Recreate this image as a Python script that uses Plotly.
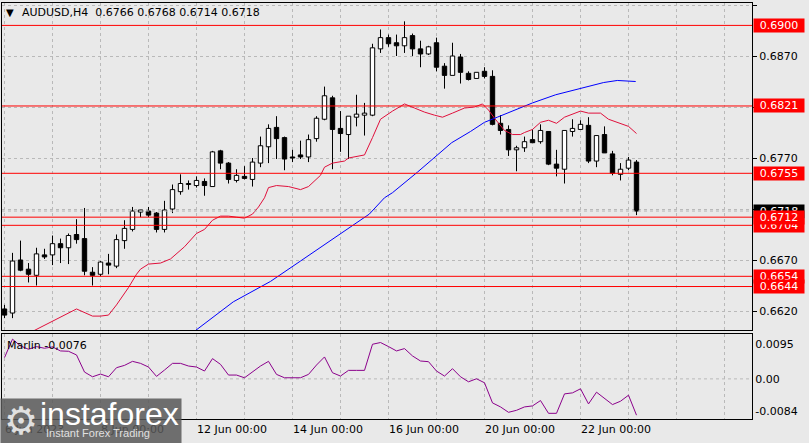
import plotly.graph_objects as go

# ---------------- data ----------------
# bar index 0 = 6 Jun 2023 00:00, H4 bars
opens = [0.6622, 0.6618, 0.6670, 0.6661, 0.6655, 0.6675, 0.6675, 0.6686, 0.6682, 0.6695,
         0.6691, 0.6658, 0.6656, 0.6667, 0.6664, 0.6689, 0.6700, 0.6717, 0.6718, 0.6716,
         0.6700, 0.6720, 0.6737, 0.6744, 0.6743, 0.6747, 0.6742, 0.6777, 0.6765, 0.6748,
         0.6752, 0.6749, 0.6765, 0.6781, 0.6800, 0.6790, 0.6771, 0.6773, 0.6771, 0.6789,
         0.6808, 0.6829, 0.6799, 0.6793, 0.6810, 0.6812, 0.6812, 0.6877, 0.6888, 0.6883,
         0.6880, 0.6890, 0.6877, 0.6872, 0.6883, 0.6860, 0.6851, 0.6869, 0.6853, 0.6848,
         0.6855, 0.6850, 0.6804, 0.6798, 0.6778, 0.6780, 0.6788, 0.6786, 0.6796, 0.6764,
         0.6759, 0.6796, 0.6798, 0.6802, 0.6767, 0.6793, 0.6774, 0.6754, 0.6760, 0.6766]
highs = [0.6626, 0.6677, 0.6689, 0.6667, 0.6682, 0.6681, 0.6694, 0.6691, 0.6696, 0.6710,
         0.6721, 0.6663, 0.6669, 0.6676, 0.6695, 0.6709, 0.6722, 0.6719, 0.6722, 0.6717,
         0.6728, 0.6744, 0.6754, 0.6748, 0.6752, 0.6750, 0.6777, 0.6778, 0.6766, 0.6759,
         0.6762, 0.6770, 0.6791, 0.6803, 0.6811, 0.6791, 0.6778, 0.6787, 0.6793, 0.6811,
         0.6840, 0.6831, 0.6816, 0.6811, 0.6832, 0.6824, 0.6882, 0.6896, 0.6891, 0.6891,
         0.6904, 0.6892, 0.6885, 0.6880, 0.6888, 0.6863, 0.6883, 0.6872, 0.6855, 0.6854,
         0.6859, 0.6856, 0.6812, 0.6802, 0.6782, 0.6791, 0.6798, 0.6803, 0.6796, 0.6778,
         0.6797, 0.6808, 0.6807, 0.6810, 0.6792, 0.6801, 0.6777, 0.6765, 0.6771, 0.6768]
lows = [0.6613, 0.6613, 0.6659, 0.6648, 0.6645, 0.6671, 0.6665, 0.6667, 0.6666, 0.6686,
        0.6655, 0.6645, 0.6654, 0.6656, 0.6662, 0.6681, 0.6698, 0.6712, 0.6712, 0.6697,
        0.6697, 0.6716, 0.6734, 0.6739, 0.6741, 0.6733, 0.6742, 0.6759, 0.6745, 0.6746,
        0.6749, 0.6742, 0.6761, 0.6765, 0.6769, 0.6758, 0.6766, 0.6769, 0.6766, 0.6786,
        0.6807, 0.6759, 0.6776, 0.6769, 0.6801, 0.6792, 0.6811, 0.6873, 0.6879, 0.6870,
        0.6873, 0.6870, 0.6859, 0.6871, 0.6855, 0.6838, 0.6851, 0.6843, 0.6846, 0.6848,
        0.6848, 0.6802, 0.6793, 0.6772, 0.6757, 0.6776, 0.6785, 0.6784, 0.6763, 0.6752,
        0.6745, 0.6791, 0.6798, 0.6765, 0.6761, 0.6775, 0.6753, 0.6748, 0.6758, 0.6714]
closes = [0.6616, 0.6669, 0.6660, 0.6656, 0.6676, 0.6673, 0.6686, 0.6682, 0.6694, 0.6690,
          0.6659, 0.6655, 0.6668, 0.6665, 0.6690, 0.6701, 0.6718, 0.6719, 0.6714, 0.6700,
          0.6719, 0.6739, 0.6745, 0.6745, 0.6748, 0.6743, 0.6776, 0.6765, 0.6749, 0.6753,
          0.6750, 0.6766, 0.6782, 0.6799, 0.6789, 0.6769, 0.6770, 0.6771, 0.6788, 0.6809,
          0.6831, 0.6798, 0.6794, 0.6811, 0.6813, 0.6814, 0.6878, 0.6888, 0.6882, 0.6880,
          0.6888, 0.6877, 0.6872, 0.6879, 0.6859, 0.6851, 0.6870, 0.6854, 0.6847, 0.6854,
          0.6850, 0.6803, 0.6797, 0.6778, 0.6780, 0.6786, 0.6785, 0.6797, 0.6764, 0.6760,
          0.6797, 0.6799, 0.6803, 0.6767, 0.6792, 0.6775, 0.6755, 0.6759, 0.6768, 0.6718]

# fast moving average (red) read at bar positions
ma_fast_x = [3, 4, 6, 8, 9, 11, 12, 13, 14, 15.5, 16.5, 17, 18, 19.5, 20.75, 22.5, 24, 25,
             26, 27, 28, 29, 30, 31, 31.75, 32.5, 33, 34, 35.5, 37, 38, 39.5, 40, 41, 42.5,
             43, 45, 46, 47, 48.5, 50, 51.25, 52.5, 53.75, 54.75, 56, 57.5, 58.75, 59.75,
             60.5, 61.25, 62.5, 63.5, 64.5, 65, 66, 67, 68, 69, 70, 72, 73, 74.5, 75.5, 77,
             78, 79]
ma_fast_y = [0.6598, 0.6602, 0.6610, 0.6618, 0.6622, 0.6615, 0.6615, 0.6616, 0.6626, 0.6643,
             0.6656, 0.6661, 0.6666, 0.6667, 0.6671, 0.6683, 0.6696, 0.6700, 0.6709, 0.6713,
             0.6713, 0.6712, 0.6711, 0.6715, 0.6722, 0.6731, 0.6741, 0.6743, 0.6742, 0.6739,
             0.6742, 0.6753, 0.6761, 0.6765, 0.6767, 0.6770, 0.6773, 0.6790, 0.6808, 0.6816,
             0.6823, 0.6819, 0.6815, 0.6812, 0.6810, 0.6814, 0.6819, 0.6820, 0.6823, 0.6817,
             0.6809, 0.6797, 0.6793, 0.6793, 0.6795, 0.6798, 0.6805, 0.6807, 0.6804, 0.6810,
             0.6816, 0.6814, 0.6814, 0.6808, 0.6804, 0.6801, 0.6794]

# slow moving average (blue)
ma_slow_x = [22.9, 23.9, 28.6, 33.25, 37, 41.1, 44, 45.6, 47.5, 48.5, 51.6, 55.9, 58.25, 60,
             61.6, 64.5, 66, 68.9, 71.4, 74.9, 76.6, 78.9]
ma_slow_y = [0.6596, 0.6601, 0.6629, 0.6649, 0.6669, 0.6691, 0.6706, 0.6715, 0.6731, 0.6736,
             0.6756, 0.6785, 0.6796, 0.6805, 0.6810, 0.6819, 0.6824, 0.6832, 0.6837, 0.6844,
             0.6846, 0.6845]

# Marlin oscillator, one value per bar
marlin = [0.00445, 0.00831, 0.00690, 0.00620, 0.00676, 0.00641, 0.00669, 0.00585, 0.00578, 0.00501,
          0.00143, 0.00044, 0.00101, 0.00044, 0.00234, 0.00283, 0.00367, 0.00325, 0.00248, 0.00052,
          0.00185, 0.00325, 0.00325, 0.00269, 0.00248, 0.00164, 0.00424, 0.00304, 0.00080, 0.00080,
          0.00023, 0.00143, 0.00269, 0.00367, 0.00094, 0.00023, 0.00023, 0.00023, 0.00094, 0.00290,
          0.00459, 0.00129, 0.00059, 0.00178, 0.00178, 0.00178, 0.00725, 0.00761, 0.00676, 0.00585,
          0.00634, 0.00480, 0.00374, 0.00360, 0.00164, 0.00059, 0.00213, 0.00044, -0.00061, 0.00002,
          -0.00082, -0.00503, -0.00587, -0.00700, -0.00658, -0.00587, -0.00566, -0.00454, -0.00721, -0.00721,
          -0.00314, -0.00293, -0.00208, -0.00524, -0.00279, -0.00405, -0.00538, -0.00468, -0.00342, -0.00760]

levels = [0.6900, 0.6821, 0.6755, 0.6704, 0.6712, 0.6654, 0.6644]
bid_price = 0.6718
price_ticks = [0.6620, 0.6670, 0.6720, 0.6770, 0.6820, 0.6870, 0.6920]
price_tick_text = ["0.6620", "0.6670", "", "0.6770", "", "0.6870", "0.6920"]
date_tick_idx = list(range(0, 96, 6))
date_labels = {0: "6 Jun 2023", 12: "8 Jun 00:00", 24: "12 Jun 00:00", 36: "14 Jun 00:00",
               48: "16 Jun 00:00", 60: "20 Jun 00:00", 72: "22 Jun 00:00"}
marlin_ticks = [0.00725, 0.0, -0.00671]
marlin_tick_text = ["0.0095", "0.00", "-0.0084"]
header = "AUDUSD,H4  0.6766 0.6768 0.6714 0.6718"
marlin_label = "Marlin -0,0076"

# ---------------- figure ----------------
W, H = 809, 443
ML, MR, MT, MB = 2, 57, 3, 24
PW, PH = W - ML - MR, H - MT - MB


def px2x(px):
    return (px - ML) / PW


def py2y(py):
    return (H - MB - py) / PH


BG = "#E9E9E9"
GRID = "#B9B9B9"
FONT = "DejaVu Sans"

idx = list(range(len(opens)))
wx, wy = [], []
for i, o, h, l, c in zip(idx, opens, highs, lows, closes):
    top, bot = max(o, c), min(o, c)
    if h > top:
        wx += [i, i, None]
        wy += [top, h, None]
    if l < bot:
        wx += [i, i, None]
        wy += [bot, l, None]

body_base = [min(o, c) for o, c in zip(opens, closes)]
body_h = [max(abs(c - o), 0.00008) for o, c in zip(opens, closes)]
body_col = ["white" if c > o else "black" for o, c in zip(opens, closes)]

fig = go.Figure()
fig.add_trace(go.Scatter(x=wx, y=wy, mode="lines", line=dict(color="black", width=1),
                         hoverinfo="skip", xaxis="x", yaxis="y"))
fig.add_trace(go.Bar(x=idx, y=body_h, base=body_base, width=0.55,
                     marker=dict(color=body_col, line=dict(color="black", width=1)),
                     xaxis="x", yaxis="y"))
fig.add_trace(go.Scatter(x=ma_fast_x, y=ma_fast_y, mode="lines",
                         line=dict(color="#E0103C", width=1), xaxis="x", yaxis="y"))
fig.add_trace(go.Scatter(x=ma_slow_x, y=ma_slow_y, mode="lines",
                         line=dict(color="#0000FF", width=1), xaxis="x", yaxis="y"))
fig.add_trace(go.Scatter(x=idx, y=marlin, mode="lines",
                         line=dict(color="#8B008B", width=1), xaxis="x2", yaxis="y2"))

x_lo = -0.3125
x_hi = x_lo + PW / 8.0

main_bottom = py2y(330)
sub_top = py2y(333.5)

axis_common = dict(showline=True, mirror=True, linecolor="black", linewidth=1,
                   zeroline=False, fixedrange=True)

fig.update_layout(
    width=W, height=H,
    margin=dict(l=ML, r=MR, t=MT, b=MB, pad=0),
    paper_bgcolor=BG, plot_bgcolor=BG,
    showlegend=False,
    font=dict(family=FONT, size=11, color="black"),
    xaxis=dict(domain=[0, 1], anchor="y", range=[x_lo, x_hi], tickmode="array",
               tickvals=date_tick_idx, showticklabels=False, ticks="",
               showgrid=True, gridcolor=GRID, griddash="3px,3px", gridwidth=1, **axis_common),
    yaxis=dict(domain=[main_bottom, 1], anchor="x", side="right",
               range=[0.6920 - 327 / 10200 + 2 / 10200, 0.6920 + 2 / 10200],
               tickmode="array", tickvals=price_ticks, ticktext=price_tick_text,
               ticks="outside", ticklen=4, tickcolor="black",
               showgrid=True, gridcolor=GRID, griddash="3px,3px", gridwidth=1, **axis_common),
    xaxis2=dict(domain=[0, 1], anchor="y2", range=[x_lo, x_hi], tickmode="array",
                tickvals=date_tick_idx, ticktext=[date_labels.get(v, "") for v in date_tick_idx],
                ticklabelposition="outside right", ticks="",
                showgrid=True, gridcolor=GRID, griddash="3px,3px", gridwidth=1, **axis_common),
    yaxis2=dict(domain=[0, sub_top], anchor="x2", side="right", range=[-0.0084, 0.0095],
                tickmode="array", tickvals=marlin_ticks, ticktext=marlin_tick_text,
                ticks="", showgrid=False, **axis_common),
)

shapes = []
# zero line of the oscillator
shapes.append(dict(type="line", xref="x2 domain", yref="y2", x0=0, x1=1, y0=0, y1=0,
                   line=dict(color=GRID, width=1, dash="3px,3px"), layer="below"))
# bid line
shapes.append(dict(type="line", xref="x domain", yref="y", x0=0, x1=1, y0=bid_price,
                   y1=bid_price, line=dict(color="#B4B4B4", width=1, dash="dot")))
for lv in levels:
    shapes.append(dict(type="line", xref="x domain", yref="y", x0=0, x1=1, y0=lv, y1=lv,
                       line=dict(color="#FF0000", width=1)))
fig.update_layout(shapes=shapes)

ann = []
# bid label (black) then red level labels on top
ann.append(dict(xref="paper", yref="y", x=1, y=bid_price, xanchor="left", yanchor="middle",
                xshift=1, text=f"{bid_price:.4f}", showarrow=False, width=50, height=13,
                bgcolor="black", borderpad=0, align="center",
                font=dict(color="white", size=11, family=FONT)))
for lv in levels:
    ann.append(dict(xref="paper", yref="y", x=1, y=lv, xanchor="left", yanchor="middle",
                    xshift=1, text=f"{lv:.4f}", showarrow=False, width=50, height=13,
                    bgcolor="#FF0000", borderpad=0, align="center",
                    font=dict(color="white", size=11, family=FONT)))
# header
ann.append(dict(xref="paper", yref="paper", x=px2x(4), y=py2y(12), xanchor="left",
                yanchor="middle", text="▼", showarrow=False, font=dict(size=10, family=FONT)))
ann.append(dict(xref="paper", yref="paper", x=px2x(20), y=py2y(12), xanchor="left",
                yanchor="middle", text=header, showarrow=False, font=dict(size=11, family=FONT)))
ann.append(dict(xref="paper", yref="paper", x=px2x(5), y=py2y(345), xanchor="left",
                yanchor="middle", text=marlin_label, showarrow=False,
                font=dict(size=11, family=FONT)))
# watermark
ann.append(dict(xref="paper", yref="paper", x=px2x(0), y=py2y(398), xanchor="left",
                yanchor="top", text=" ", showarrow=False, width=180, height=45,
                bgcolor="rgba(88,88,88,0.85)", borderpad=0))
ann.append(dict(xref="paper", yref="paper", x=px2x(21), y=py2y(421), xanchor="center",
                yanchor="middle", text="⚙", showarrow=False,
                font=dict(size=38, color="#E0E0E0", family=FONT)))
ann.append(dict(xref="paper", yref="paper", x=px2x(38), y=py2y(414), xanchor="left",
                yanchor="middle", text="instaforex", showarrow=False,
                font=dict(size=32, color="white", family="Liberation Sans")))
ann.append(dict(xref="paper", yref="paper", x=px2x(44), y=py2y(433), xanchor="left",
                yanchor="middle", text="Instant Forex Trading", showarrow=False,
                font=dict(size=11, color="#E0E0E0", family="Liberation Sans")))
fig.update_layout(annotations=ann)

fig.write_html("out.html", config={"displayModeBar": False},
               post_script="document.body.style.margin='0';document.body.style.overflow='hidden';")
